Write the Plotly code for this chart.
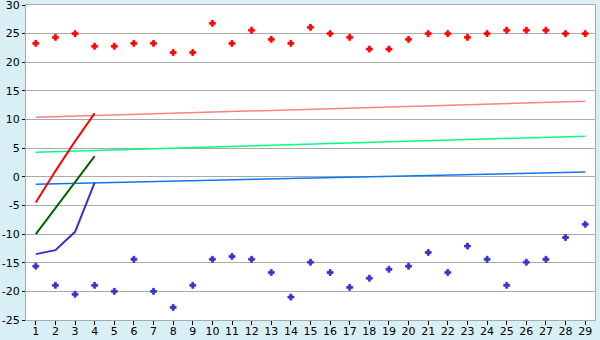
import plotly.graph_objects as go

cats = list(range(1, 30))
red_pts = [23.3, 24.35, 25.0, 22.8, 22.8, 23.3, 23.3, 21.7, 21.7, 26.8,
           23.3, 25.6, 24.0, 23.3, 26.1, 25.0, 24.35, 22.3, 22.3, 24.0,
           25.0, 25.0, 24.35, 25.0, 25.6, 25.6, 25.6, 25.0, 25.0]
blue_pts = [-15.6, -18.95, -20.5, -18.95, -20.0, -14.4, -20.0, -22.8, -18.95, -14.4,
            -13.9, -14.4, -16.7, -21.0, -14.9, -16.7, -19.3, -17.7, -16.15, -15.6,
            -13.2, -16.7, -12.1, -14.4, -18.95, -14.9, -14.4, -10.6, -8.3]
line_x = [1, 2, 3, 4]
red_line = [-4.5, 1.0, 6.2, 11.1]
green_line = [-10.0, -5.5, -1.0, 3.6]
blue_line = [-13.5, -12.8, -9.6, -1.0]
trend_x = [1, 29]
red_trend = [10.4, 13.2]
green_trend = [4.3, 7.1]
blue_trend = [-1.3, 0.85]

fig = go.Figure()
fig.add_trace(go.Scatter(x=trend_x, y=red_trend, mode="lines", line=dict(color="#ff8080", width=1.5)))
fig.add_trace(go.Scatter(x=trend_x, y=green_trend, mode="lines", line=dict(color="#00ff80", width=1.5)))
fig.add_trace(go.Scatter(x=trend_x, y=blue_trend, mode="lines", line=dict(color="#0a78f0", width=1.5)))
fig.add_trace(go.Scatter(x=line_x, y=red_line, mode="lines", line=dict(color="#ff0000", width=2)))
fig.add_trace(go.Scatter(x=line_x, y=green_line, mode="lines", line=dict(color="#006400", width=2)))
fig.add_trace(go.Scatter(x=line_x, y=blue_line, mode="lines", line=dict(color="#3333cc", width=2)))
fig.add_trace(go.Scatter(x=cats, y=red_pts, mode="markers",
                         marker=dict(symbol="cross", size=5, color="#ff0000",
                                     line=dict(color="#ff0000", width=0.8))))
fig.add_trace(go.Scatter(x=cats, y=blue_pts, mode="markers",
                         marker=dict(symbol="cross", size=5, color="#3333cc",
                                     line=dict(color="#3333cc", width=0.8))))

fig.update_layout(
    width=600, height=340,
    margin=dict(l=26, r=5, t=5, b=20),
    paper_bgcolor="#d9eff6", plot_bgcolor="#ffffff",
    showlegend=False,
    font=dict(family="DejaVu Sans", size=11, color="#000000"),
)
fig.update_xaxes(range=[0.5, 29.5], tickmode="array", tickvals=cats, ticktext=[str(c) for c in cats],
                 showgrid=False, zeroline=False, showline=True, mirror=True, linecolor="#aaaaaa",
                 ticks="outside", ticklen=4, tickcolor="#000000", tickfont=dict(size=11),
                 ticklabelstandoff=-3, ticklabeloverflow="allow", automargin=False)
fig.update_yaxes(range=[-25, 30], tickmode="array", tickvals=list(range(-25, 31, 5)),
                 ticktext=[str(v) for v in range(-25, 31, 5)],
                 showgrid=True, gridcolor="#aaaaaa", gridwidth=1, zeroline=False,
                 showline=True, mirror=True, linecolor="#aaaaaa",
                 ticks="outside", ticklen=3, tickcolor="#000000", tickfont=dict(size=11),
                 ticklabeloverflow="allow", automargin=False)

fig.write_html("out.html")
